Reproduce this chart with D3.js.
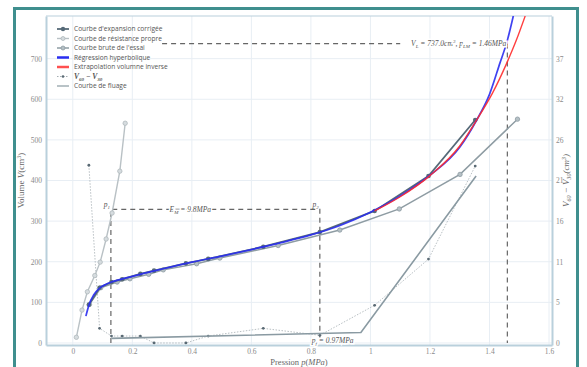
<!DOCTYPE html>
<html><head><meta charset="utf-8">
<script src="https://cdnjs.cloudflare.com/ajax/libs/d3/7.8.5/d3.min.js"></script>
<style>html,body{margin:0;padding:0;background:#fff;}svg{display:block;}</style>
</head><body>
<script>
// ---- data ----
const corrP = [0.054,0.09,0.13,0.166,0.227,0.273,0.38,0.455,0.64,0.83,1.014,1.195,1.352];
const corrV = [94,136,150,157,170,178,196,207,237,273,325,411,549];
const rawP  = [0.056,0.094,0.149,0.192,0.255,0.304,0.416,0.494,0.69,0.897,1.097,1.301,1.494];
const rawV  = [95,136,150,158,169,180,195,209,240,278,330,415,551];
const resP  = [0.012,0.031,0.049,0.074,0.092,0.112,0.132,0.158,0.176];
const resV  = [14,81,126,166,199,256,320,423,541];
const hypP  = [0.044,0.055,0.07,0.09,0.11,0.13,0.2,0.3,0.4,0.5,0.6,0.7,0.8,0.9,1.0,1.1,1.2,1.3,1.357,1.4,1.435,1.46,1.48];
const hypV  = [66,95,118,135,144,150,164,182,199,214,230,247,266,290,322,362,413,482,549,612,689,745,805];
const extP  = [1.014,1.1,1.2,1.3,1.357,1.41,1.458,1.49,1.52];
const extV  = [325,360,412,485,549,615,689,745,805];
const creepP = [0.054,0.09,0.13,0.166,0.227,0.273,0.38,0.455,0.64,0.83,1.014,1.195,1.352];
const creepR = [23.1,1.9,0.9,0.9,0.9,0,0,0.9,1.9,1.0,4.9,10.9,23.0];
const flP = [0.13,0.968,1.355];
const flR = [0.6,1.35,21.7];
const p1 = 0.128, p2 = 0.83, pLM = 1.46, VL = 737, Vp1 = 329;
const xTicks = [0,0.2,0.4,0.6,0.8,1,1.2,1.4,1.6];
const xTickLabels = ["0","0.2","0.4","0.6","0.8","1","1.2","1.4","1.6"];
const yTicks = [0,100,200,300,400,500,600,700];
const yRightLabels = ["0","5","11","16","21","26","32","37"];
const legendNames = ["Courbe d'expansion corrigée","Courbe de résistance propre","Courbe brute de l'essai","Régression hyperbolique","Extrapolation volumne inverse","V60-V30","Courbe de fluage"];

// ---- layout ----
const W=587,H=367, L=46, R=552, T=16, B=345;
const k = 0.0528;
const svg = d3.select("body").append("svg").attr("width",W).attr("height",H);
const x = d3.scaleLinear().domain([-0.09,1.61]).range([L,R]);
const y = d3.scaleLinear().domain([-5,805]).range([B,T]);
const yR = d3.scaleLinear().domain([-5*k,805*k]).range([B,T]);

const gridC="#e8eef4", axC="#b9d0dc", tickC="#8a8a8a";
// frame
svg.append("rect").attr("x",14.5).attr("y",8.5).attr("width",563).attr("height",380)
  .attr("fill","none").attr("stroke","#3f8f8e").attr("stroke-width",3);

// grid
svg.append("g").selectAll("line").data(xTicks).join("line")
  .attr("x1",d=>x(d)).attr("x2",d=>x(d)).attr("y1",T).attr("y2",B).attr("stroke",gridC).attr("stroke-width",1);
svg.append("g").selectAll("line").data(yTicks).join("line")
  .attr("x1",L).attr("x2",R).attr("y1",d=>y(d)).attr("y2",d=>y(d)).attr("stroke",gridC).attr("stroke-width",1);

// axes
const ax = d3.axisBottom(x).tickValues(xTicks).tickFormat((d,i)=>xTickLabels[i]).tickSize(0).tickPadding(4);
const gx = svg.append("g").attr("transform",`translate(0,${B})`).call(ax);
const ayl = d3.axisLeft(y).tickValues(yTicks).tickSize(0).tickPadding(4);
const gyl = svg.append("g").attr("transform",`translate(${L},0)`).call(ayl);
const ayr = d3.axisRight(yR).tickValues(yTicks.map(v=>v*k)).tickFormat((d,i)=>yRightLabels[i]).tickSize(0).tickPadding(4);
const gyr = svg.append("g").attr("transform",`translate(${R},0)`).call(ayr);
[gx,gyl,gyr].forEach(g=>{
  g.select(".domain").attr("stroke",axC).attr("stroke-width",2);
  g.selectAll("text").attr("fill",tickC).attr("font-size",7.5).attr("font-family","Liberation Serif, serif");
});
svg.append("line").attr("x1",L).attr("x2",R).attr("y1",T).attr("y2",T).attr("stroke",axC).attr("stroke-width",1.2);

// axis titles
svg.append("text").attr("transform",`translate(24,${(T+B)/2}) rotate(-90)`).attr("text-anchor","middle")
  .attr("font-family","Liberation Serif, serif").attr("font-size",9).attr("fill","#666")
  .html('Volume <tspan font-style="italic">V</tspan>(cm<tspan dy="-3" font-size="6">3</tspan><tspan dy="3">)</tspan>');
svg.append("text").attr("transform",`translate(569,${(T+B)/2}) rotate(-90)`).attr("text-anchor","middle")
  .attr("font-family","Liberation Serif, serif").attr("font-size",9).attr("fill","#666").attr("font-style","italic")
  .html('V<tspan dy="2" font-size="6">60</tspan><tspan dy="-2"> − V</tspan><tspan dy="2" font-size="6">30</tspan><tspan dy="-2">(cm</tspan><tspan dy="-3" font-size="6">3</tspan><tspan dy="3">)</tspan>');
svg.append("text").attr("x",(L+R)/2).attr("y",365).attr("text-anchor","middle")
  .attr("font-family","Liberation Serif, serif").attr("font-size",8.5).attr("fill","#666")
  .html('Pression <tspan font-style="italic">p</tspan>(<tspan font-style="italic">MPa</tspan>)');

const line = d3.line().x(d=>x(d[0])).y(d=>y(d[1]));
const lineR = d3.line().x(d=>x(d[0])).y(d=>yR(d[1]));
const zip=(a,b)=>a.map((v,i)=>[v,b[i]]);

const clip = svg.append("clipPath").attr("id","c").append("rect").attr("x",L).attr("y",T).attr("width",R-L).attr("height",B-T);
const P = svg.append("g").attr("clip-path","url(#c)");

// dashed construction lines
const dash = {stroke:"#666", "stroke-width":1.2, "stroke-dasharray":"5,4", fill:"none"};
function dl(pts,sc){ const pth=P.append("path").attr("d",(sc||line)(pts)); for(const k2 in dash) pth.attr(k2,dash[k2]); return pth;}
dl([[p1,0],[p1,Vp1],[p2,Vp1],[p2,0]]);
dl([[0.3,VL],[1.1,VL]]);
dl([[pLM,VL],[pLM,0]]);

// creep (right axis)
P.append("path").attr("d",lineR(zip(creepP,creepR))).attr("fill","none").attr("stroke","#b0b8bc").attr("stroke-width",0.9).attr("stroke-dasharray","1.5,1.5");
P.append("g").selectAll("circle").data(zip(creepP,creepR)).join("circle")
  .attr("cx",d=>x(d[0])).attr("cy",d=>yR(d[1])).attr("r",1.4).attr("fill","#5a6a74");
P.append("path").attr("d",lineR(zip(flP,flR))).attr("fill","none").attr("stroke","#8a9aa2").attr("stroke-width",1.6);

// resistance
P.append("path").attr("d",line(zip(resP,resV))).attr("fill","none").attr("stroke","#b9c1c5").attr("stroke-width",1.4);
P.append("g").selectAll("circle").data(zip(resP,resV)).join("circle")
  .attr("cx",d=>x(d[0])).attr("cy",d=>y(d[1])).attr("r",2.2).attr("fill","#d6dcdf").attr("stroke","#b0b9bd").attr("stroke-width",0.8);
// raw
P.append("path").attr("d",line(zip(rawP,rawV))).attr("fill","none").attr("stroke","#8e9ca3").attr("stroke-width",1.5);
P.append("g").selectAll("circle").data(zip(rawP,rawV)).join("circle")
  .attr("cx",d=>x(d[0])).attr("cy",d=>y(d[1])).attr("r",2.2).attr("fill","#b5c0c5").attr("stroke","#8e9ca3").attr("stroke-width",0.8);
// corrected
P.append("path").attr("d",line(zip(corrP,corrV))).attr("fill","none").attr("stroke","#566a78").attr("stroke-width",1.8);
P.append("g").selectAll("circle").data(zip(corrP,corrV)).join("circle")
  .attr("cx",d=>x(d[0])).attr("cy",d=>y(d[1])).attr("r",2.3).attr("fill","#566a78");
// regression & extrapolation
const curve = d3.line().x(d=>x(d[0])).y(d=>y(d[1])).curve(d3.curveMonotoneX);
P.append("path").attr("d",curve(zip(hypP,hypV))).attr("fill","none").attr("stroke","#2a2ef0").attr("stroke-width",1.7).attr("stroke-opacity",0.9);
P.append("path").attr("d",curve(zip(extP,extV))).attr("fill","none").attr("stroke","#ff2a2a").attr("stroke-width",1.4).attr("stroke-opacity",0.9);

// annotations
const ann = (xx,yy,html,anchor)=>svg.append("text").attr("x",xx).attr("y",yy).attr("text-anchor",anchor||"start")
  .attr("font-family","Liberation Serif, serif").attr("font-style","italic").attr("font-size",7.5).attr("fill","#555").html(html);
ann(x(p1)-1,y(Vp1)-2,'p<tspan dy="2" font-size="5">1</tspan>',"end");
ann(x(p2)-1,y(Vp1)-2,'p<tspan dy="2" font-size="5">2</tspan>',"end");
ann((x(p1)+x(p2))/2-25,y(Vp1)+2.5,'E<tspan dy="2" font-size="5">M</tspan><tspan dy="-2"> = 9.8MPa</tspan>',"middle")
  .attr("stroke","#fff").attr("stroke-width",3).attr("paint-order","stroke");
ann(x(pLM)-1,y(VL)+2.5,'V<tspan dy="2" font-size="5">L</tspan><tspan dy="-2"> = 737.0cm</tspan><tspan dy="-3" font-size="5">3</tspan><tspan dy="3">, p</tspan><tspan dy="2" font-size="5">LM</tspan><tspan dy="-2"> = 1.46MPa</tspan>',"end")
  .attr("stroke","#fff").attr("stroke-width",3).attr("paint-order","stroke");
ann(x(p2)-8,B-2,'p<tspan dy="2" font-size="5">f</tspan><tspan dy="-2"> = 0.97MPa</tspan>',"start")
  .attr("stroke","#fff").attr("stroke-width",3).attr("paint-order","stroke");

// legend
const lg = svg.append("g").attr("font-family","Open Sans, sans-serif").attr("font-size",6.6).attr("fill","#555");
const ly = i=>29+i*9.5;
const sx1=57, sx2=69;
function lline(i,c,w,da){ lg.append("line").attr("x1",sx1).attr("x2",sx2).attr("y1",ly(i)).attr("y2",ly(i)).attr("stroke",c).attr("stroke-width",w).attr("stroke-dasharray",da||null);}
function ldot(i,f,s,r){ lg.append("circle").attr("cx",(sx1+sx2)/2).attr("cy",ly(i)).attr("r",r).attr("fill",f).attr("stroke",s).attr("stroke-width",0.8);}
lline(0,"#566a78",1.8); ldot(0,"#566a78","none",2.2);
lline(1,"#b9c1c5",1.4); ldot(1,"#d6dcdf","#b0b9bd",2);
lline(2,"#8e9ca3",1.5); ldot(2,"#b5c0c5","#8e9ca3",2);
lline(3,"#2a2ef0",2.5);
lline(4,"#ff5050",2.5);
lline(5,"#9aa4a8",0.9,"1.5,1.5"); ldot(5,"#5a6a74","none",1.3);
lline(6,"#8a9aa2",1.2);
legendNames.forEach((n,i)=>{
  if(i===5){
    lg.append("text").attr("x",74).attr("y",ly(i)+2.5).attr("font-family","Liberation Serif, serif").attr("font-style","italic").attr("font-weight","bold").attr("font-size",7.5)
      .html('V<tspan dy="2" font-size="5">60</tspan><tspan dy="-2"> − V</tspan><tspan dy="2" font-size="5">30</tspan>');
  } else {
    lg.append("text").attr("x",74).attr("y",ly(i)+2.3).text(n);
  }
});
</script>
</body></html>
